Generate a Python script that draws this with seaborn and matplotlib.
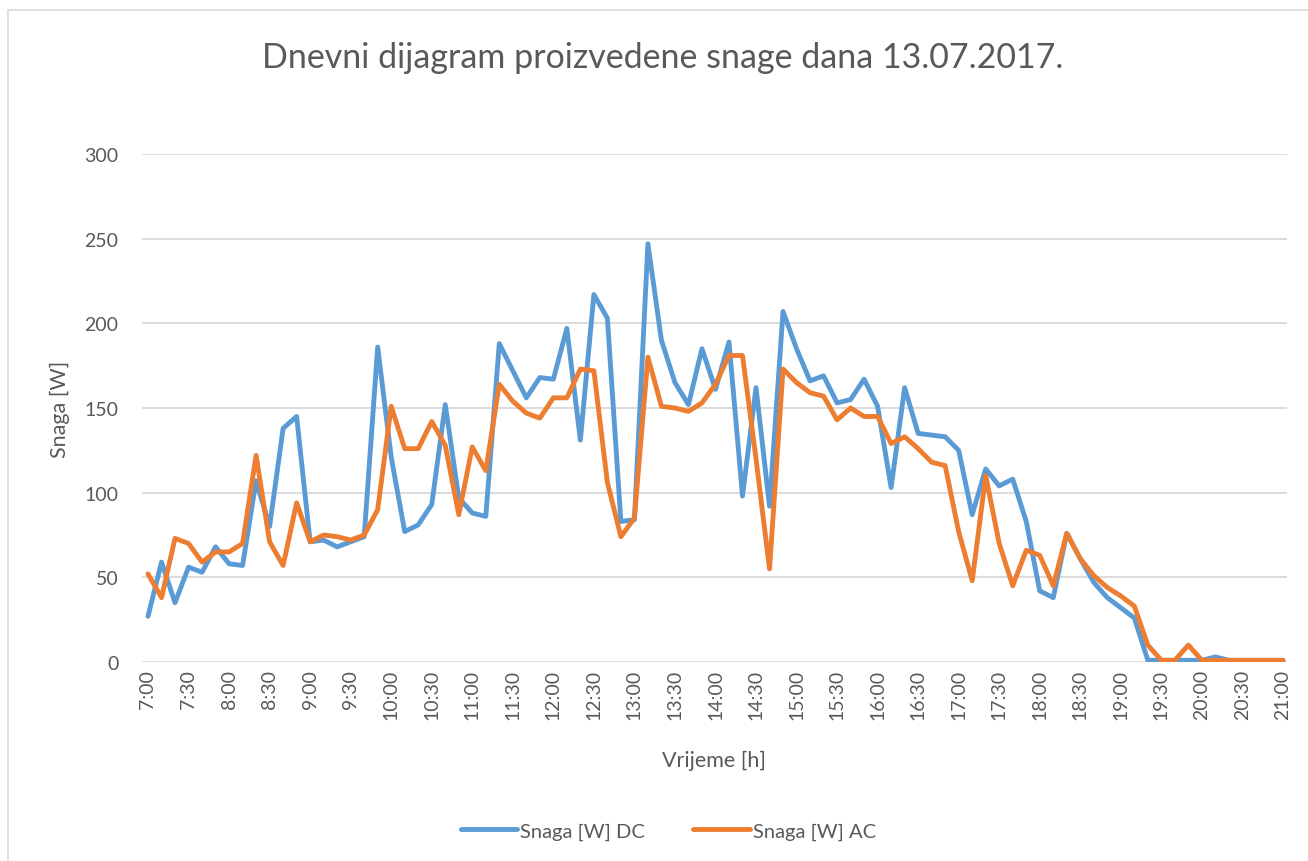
import pandas as pd
import matplotlib
matplotlib.use('Agg')
import matplotlib.pyplot as plt
from matplotlib.patches import Rectangle
import seaborn as sns

# 10-minute readings from 7:00 to 21:00
snaga_dc = [27, 59, 35, 56, 53, 68, 58, 57, 107, 80, 138, 145,
            71, 72, 68, 71, 74, 186, 121, 77, 81, 93, 152, 97,
            88, 86, 188, 172, 156, 168, 167, 197, 131, 217, 203, 83,
            84, 247, 190, 165, 152, 185, 161, 189, 98, 162, 92, 207,
            185, 166, 169, 153, 155, 167, 151, 103, 162, 135, 134, 133,
            125, 87, 114, 104, 108, 83, 42, 38, 76, 61, 47, 38,
            32, 26, 1, 1, 1, 1, 1, 3, 1, 1, 1, 1, 1]
snaga_ac = [52, 38, 73, 70, 59, 65, 65, 70, 122, 71, 57, 94,
            71, 75, 74, 72, 75, 90, 151, 126, 126, 142, 128, 87,
            127, 113, 164, 154, 147, 144, 156, 156, 173, 172, 106, 74,
            85, 180, 151, 150, 148, 153, 164, 181, 181, 120, 55, 173,
            165, 159, 157, 143, 150, 145, 145, 129, 133, 126, 118, 116,
            77, 48, 110, 70, 45, 66, 63, 45, 76, 61, 51, 44,
            39, 33, 10, 1, 1, 10, 1, 1, 1, 1, 1, 1, 1]
series_names = ['Snaga [W] DC', 'Snaga [W] AC']
tick_labels = ['7:00', '7:30', '8:00', '8:30', '9:00', '9:30', '10:00', '10:30',
               '11:00', '11:30', '12:00', '12:30', '13:00', '13:30', '14:00',
               '14:30', '15:00', '15:30', '16:00', '16:30', '17:00', '17:30',
               '18:00', '18:30', '19:00', '19:30', '20:00', '20:30', '21:00']

hours = [7 + i / 6 for i in range(len(snaga_dc))]
df = pd.DataFrame({
    'Vrijeme': hours * 2,
    'Snaga': snaga_dc + snaga_ac,
    'Serija': [series_names[0]] * len(snaga_dc) + [series_names[1]] * len(snaga_ac),
})

sns.set_theme(style="white")
plt.rcParams['font.family'] = ['Lato', 'DejaVu Sans']
text_col = '#595959'

fig = plt.figure(figsize=(13.08, 8.62), dpi=100)
ax = fig.add_axes([142 / 1308, 1 - 663 / 862, 1145 / 1308, 508 / 862])

sns.lineplot(data=df, x='Vrijeme', y='Snaga', hue='Serija',
             palette={series_names[0]: '#5B9BD5', series_names[1]: '#ED7D31'},
             linewidth=3.5, ax=ax, legend=True)

ax.set_xlim(7 - 0.074, 21 + 0.05)
ax.set_ylim(0, 300)
ax.set_yticks(range(0, 301, 50))
ax.set_xticks([7 + 0.5 * k for k in range(len(tick_labels))])
ax.set_xticklabels(tick_labels, rotation=90)
ax.grid(axis='y', color='#d9d9d9', linewidth=1.3)
ax.set_axisbelow(True)
for s in ax.spines.values():
    s.set_visible(False)
ax.tick_params(axis='y', length=0, pad=17, labelsize=14, labelcolor=text_col)
ax.tick_params(axis='x', length=0, pad=5, labelsize=14, labelcolor=text_col)

ax.set_xlabel('Vrijeme [h]', fontsize=15.5, color=text_col, labelpad=22)
ax.set_ylabel('Snaga [W]', fontsize=15.5, color=text_col, labelpad=10)

fig.text(0.507, 1 - 58 / 862, 'Dnevni dijagram proizvedene snage dana 13.07.2017.',
         ha='center', va='center', fontsize=24.5, color=text_col)

handles, labels = ax.get_legend_handles_labels()
ax.legend(handles, labels, loc='center', bbox_to_anchor=(0.511, 30 / 862),
          bbox_transform=fig.transFigure, ncol=2, frameon=False,
          fontsize=14.5, labelcolor=text_col, handlelength=2.8,
          handletextpad=0.15, columnspacing=2.4)

fig.patches.append(Rectangle((8 / 1308, -0.05), 1.1, 1 - 11 / 862 + 0.05,
                             transform=fig.transFigure, fill=False,
                             edgecolor='#d9d9d9', linewidth=1.2))

fig.savefig('out.png', dpi=100)
